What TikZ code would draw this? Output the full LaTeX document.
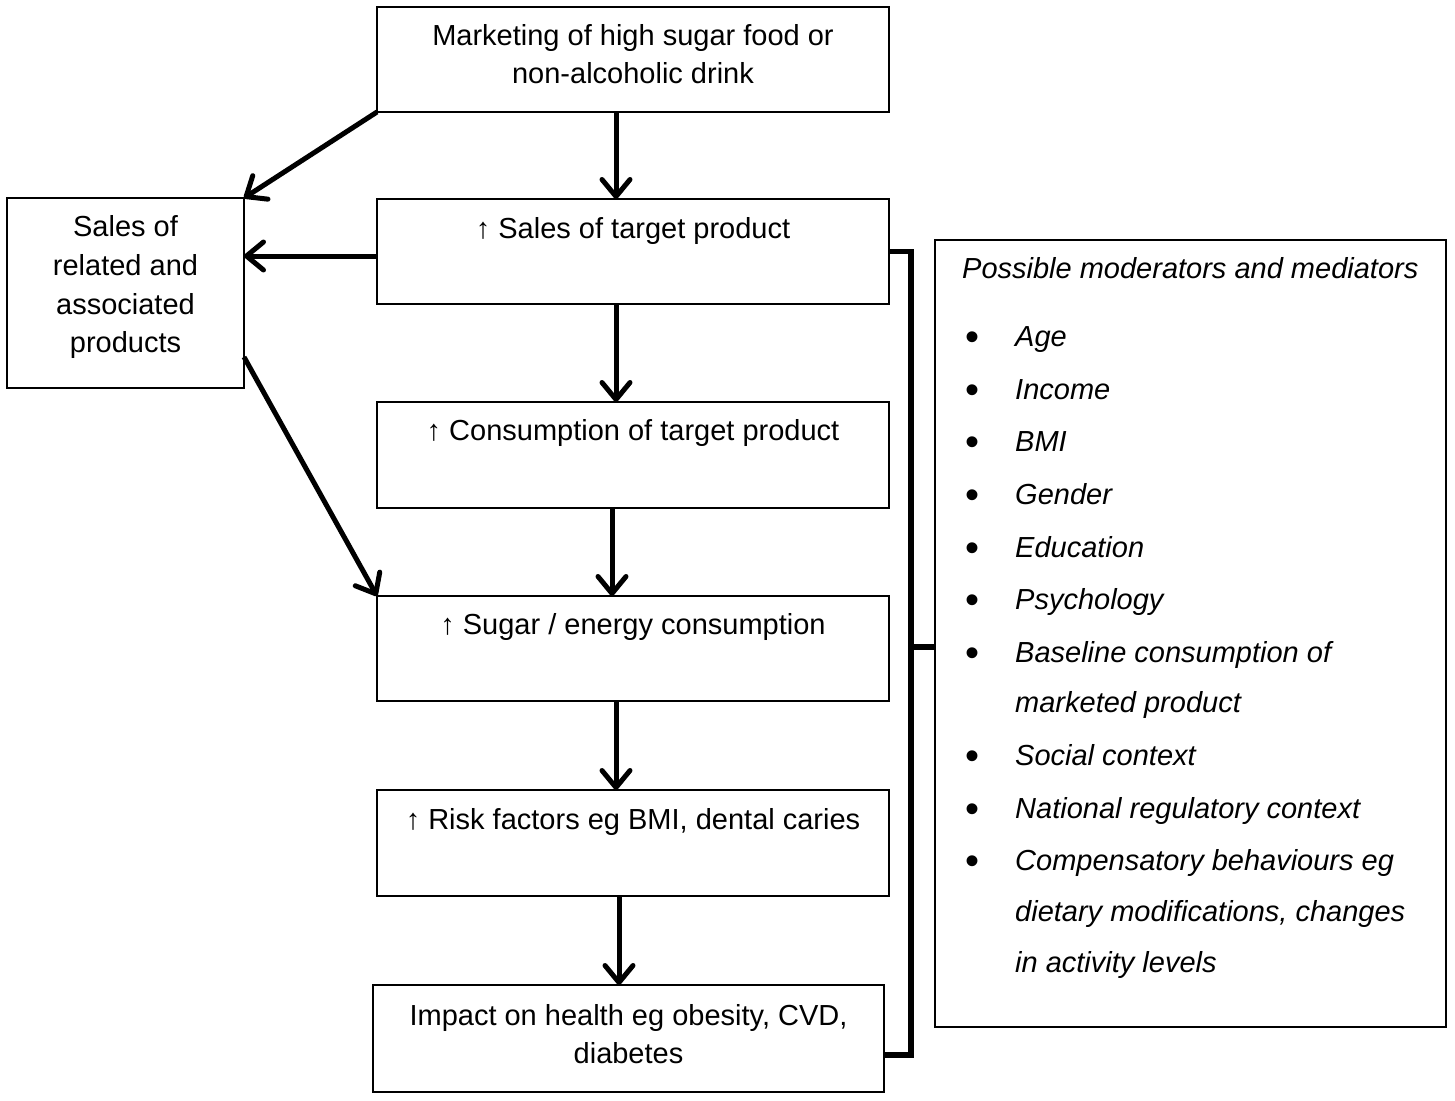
\documentclass[tikz,border=0pt]{standalone}
\usepackage{fontspec}
\setmainfont{Liberation Sans}
\usetikzlibrary{arrows.meta,calc}
\begin{document}
\begin{tikzpicture}[x=1pt,y=-1pt,
  box/.style={draw=black,line width=1.6pt,rectangle,inner sep=0pt,outer sep=0pt},
  txt/.style={anchor=base,inner sep=0pt,font=\fontsize{29}{38}\selectfont},
  itx/.style={anchor=base west,inner sep=0pt,font=\fontsize{29}{38}\selectfont\itshape},
  bul/.style={anchor=base,inner sep=0pt,font=\fontsize{40}{40}\selectfont},
  flow/.style={line width=5pt,-{Straight Barb[length=17pt,width=28pt,round]}},
  brk/.style={line width=5.5pt}]
\useasboundingbox (0,0) rectangle (1455,1100);
% boxes
\node[box,minimum width=512pt,minimum height=105pt] (mk) at (633,59.5) {};
\node[box,minimum width=512pt,minimum height=105pt] (st) at (633,251.5) {};
\node[box,minimum width=512pt,minimum height=106pt] (cs) at (633,455) {};
\node[box,minimum width=512pt,minimum height=105pt] (sg) at (633,648.5) {};
\node[box,minimum width=512pt,minimum height=106pt] (rk) at (633,843) {};
\node[box,minimum width=511pt,minimum height=107pt] (ip) at (628.5,1038.5) {};
\node[box,minimum width=237pt,minimum height=190pt] (rel) at (125.5,293) {};
\node[box,minimum width=511pt,minimum height=787pt] (mod) at (1190.5,633.5) {};
% texts
\node[txt] (mk1) at (633,45) {Marketing of high sugar food or};
\node[txt] (mk2) at (633,83) {non-alcoholic drink};
\node[txt] (st1) at (633,238) {↑ Sales of target product};
\node[txt] (cs1) at (633,440) {↑ Consumption of target product};
\node[txt] (sg1) at (633,634) {↑ Sugar / energy consumption};
\node[txt] (rk1) at (633,829) {↑ Risk factors eg BMI, dental caries};
\node[txt] (ip1) at (628.5,1025) {Impact on health eg obesity, CVD,};
\node[txt] (ip2) at (628.5,1063) {diabetes};
\node[txt] (rel1) at (125.5,236) {Sales of};
\node[txt] (rel2) at (125.5,275) {related and};
\node[txt] (rel3) at (125.5,314) {associated};
\node[txt] (rel4) at (125.5,352) {products};
% moderators
\node[itx] (mh) at (962,278) {Possible moderators and mediators};
\foreach \y/\t [count=\i] in {346/Age,399/Income,451/BMI,504/Gender,557/Education,609/Psychology,662/Baseline consumption of,765/Social context,818/National regulatory context,870/Compensatory behaviours eg}{
  \node[bul] (b\i) at (972,\y+4) {•};
  \node[itx] (it\i) at (1015,\y) {\t};
}
\node[itx] (it7b) at (1015,712) {marketed product};
\node[itx] (it10b) at (1015,921) {dietary modifications, changes};
\node[itx] (it10c) at (1015,972) {in activity levels};
% vertical flow arrows
\draw[flow] ([xshift=-17pt]mk.south) -- ([xshift=-17pt]st.north);
\draw[flow] ([xshift=-17pt]st.south) -- ([xshift=-17pt]cs.north);
\draw[flow] ([xshift=-21pt]cs.south) -- ([xshift=-21pt]sg.north);
\draw[flow] ([xshift=-17pt]sg.south) -- ([xshift=-17pt]rk.north);
\draw[flow] ([xshift=-14pt]rk.south) -- ([xshift=-14pt]rk.south |- ip.north);
% side arrows
\draw[flow] (mk.south west) -- (rel.north east);
\draw[flow] ($(st.west)+(0,4.5)$) -- ($(rel.east |- st.west)+(0,4.5)$);
\draw[flow] ($(rel.east)+(0,64)$) -- (sg.north west);
% bracket
\coordinate (bx) at (911,0);
\coordinate (bb) at ($(ip.east)+(0,16.5)$);
\coordinate (bm) at ($(mod.west)+(0,13.5)$);
\draw[brk] (st.east) -- (st.east -| bx) -- (bx |- bb) -- (bb);
\draw[brk] (bx |- bm) -- (bm);
\end{tikzpicture}
\end{document}
